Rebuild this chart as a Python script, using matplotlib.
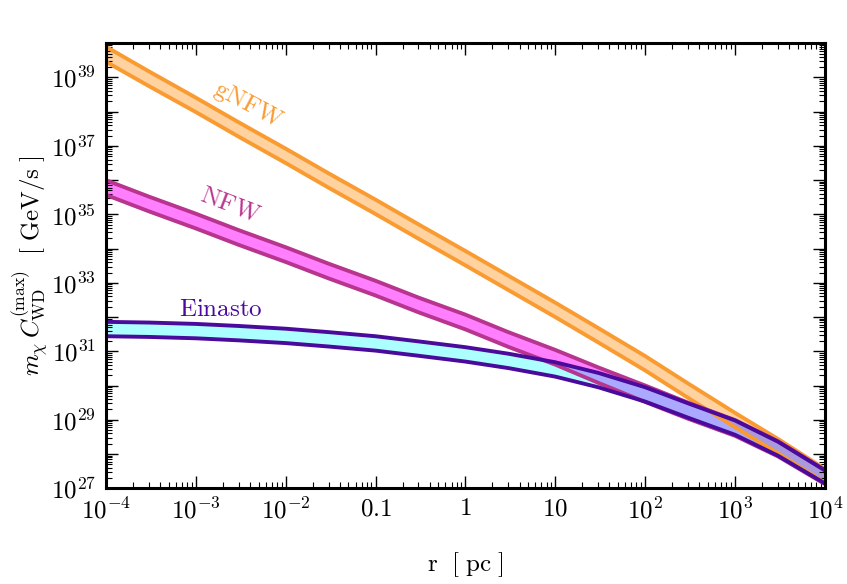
import numpy as np
import matplotlib
matplotlib.use("Agg")
import matplotlib.pyplot as plt
from matplotlib.ticker import FixedLocator, FixedFormatter, LogLocator, NullFormatter

plt.rcParams['mathtext.fontset'] = 'cm'
plt.rcParams['font.family'] = 'serif'
plt.rcParams['font.serif'] = ['cmr10', 'DejaVu Serif']
plt.rcParams['axes.unicode_minus'] = False

# radius grid [pc]
r = [1e-4, 3e-4, 1e-3, 3e-3, 1e-2, 3e-2, 0.1, 0.3, 1, 3, 10, 30, 100, 300, 1e3, 3e3, 1e4]

# log10 of m_chi * C_WD^(max) [GeV/s], upper / lower edge of each band
gnfw_hi = [39.90, 39.18, 38.41, 37.69, 36.92, 36.20, 35.43, 34.71, 33.93, 33.21,
           32.42, 31.68, 30.86, 30.06, 29.20, 28.44, 27.56]
gnfw_lo = [39.46, 38.75, 37.99, 37.27, 36.50, 35.78, 35.01, 34.29, 33.51, 32.79,
           32.00, 31.26, 30.44, 29.64, 28.78, 28.02, 27.16]

nfw_hi = [36.00, 35.52, 35.02, 34.54, 34.04, 33.56, 33.06, 32.57, 32.07, 31.56,
          31.04, 30.53, 30.00, 29.50, 28.99, 28.37, 27.53]
nfw_lo = [35.57, 35.09, 34.59, 34.11, 33.61, 33.13, 32.63, 32.14, 31.64, 31.13,
          30.61, 30.08, 29.52, 29.03, 28.53, 27.93, 27.12]

ein_hi = [31.86, 31.84, 31.80, 31.74, 31.66, 31.56, 31.44, 31.29, 31.12, 30.93,
          30.68, 30.37, 29.95, 29.48, 28.98, 28.36, 27.52]
ein_lo = [31.44, 31.42, 31.38, 31.32, 31.24, 31.14, 31.02, 30.87, 30.70, 30.51,
          30.26, 29.95, 29.53, 29.06, 28.56, 27.95, 27.14]

xtick_vals = [1e-4, 1e-3, 1e-2, 0.1, 1, 10, 1e2, 1e3, 1e4]
xtick_labels = [r'$10^{-4}$', r'$10^{-3}$', r'$10^{-2}$', r'$0.1$', r'$1$', r'$10$',
                r'$10^{2}$', r'$10^{3}$', r'$10^{4}$']
ytick_exp = list(range(27, 41))

bands = [
    ('gNFW', gnfw_hi, gnfw_lo, '#f99b31', '#ffa640', 0.5),
    ('NFW', nfw_hi, nfw_lo, '#b8358f', '#ff00ff', 0.5),
    ('Einasto', ein_hi, ein_lo, '#4a0a9c', '#00ffff', 0.33),
]

fig = plt.figure(figsize=(8.47, 5.84), dpi=100)
ax = fig.add_axes([0.125, 0.164, 0.849, 0.762])

for name, hi, lo, ec, fc, a in bands:
    hi = 10.0 ** np.array(hi)
    lo = 10.0 ** np.array(lo)
    ax.fill_between(r, lo, hi, color=fc, alpha=a, lw=0)
    ax.plot(r, hi, color=ec, lw=2.8, solid_capstyle='butt')
    ax.plot(r, lo, color=ec, lw=2.8, solid_capstyle='butt')

ax.set_xscale('log')
ax.set_yscale('log')
ax.set_xlim(1e-4, 1e4)
ax.set_ylim(1e27, 1e40)

ax.xaxis.set_major_locator(FixedLocator(xtick_vals))
ax.xaxis.set_major_formatter(FixedFormatter(xtick_labels))
ax.xaxis.set_minor_locator(LogLocator(base=10, subs=np.arange(2, 10), numticks=30))
ax.xaxis.set_minor_formatter(NullFormatter())

yt = [10.0 ** e for e in ytick_exp]
ylab = [(r'$10^{%d}$' % e) if e % 2 == 1 else '' for e in ytick_exp]
ax.yaxis.set_major_locator(FixedLocator(yt))
ax.yaxis.set_major_formatter(FixedFormatter(ylab))
ax.yaxis.set_minor_locator(LogLocator(base=10, subs=np.arange(2, 10), numticks=40))
ax.yaxis.set_minor_formatter(NullFormatter())

ax.tick_params(which='both', direction='in', top=True, right=True, labelsize=18)
ax.tick_params(which='major', length=8.5, width=1.0, pad=7)
ax.tick_params(which='minor', length=4.5, width=0.8)
for s in ax.spines.values():
    s.set_linewidth(2.2)

ax.set_xlabel(r'$\mathrm{r\ \ [\ pc\ ]}$', fontsize=18, labelpad=19)
ax.set_ylabel(r'$m_\chi\, C_{\rm WD}^{(\rm max)}\ \ [\ \mathrm{GeV/s}\ ]$', fontsize=18, labelpad=0)

ax.text(3.8e-3, 1.6e38, r'$\mathrm{gNFW}$', color='#f99b31', fontsize=18,
        rotation=-28, ha='center', va='center', rotation_mode='anchor')
ax.text(2.4e-3, 1.9e35, r'$\mathrm{NFW}$', color='#b8358f', fontsize=18,
        rotation=-21, ha='center', va='center', rotation_mode='anchor')
ax.text(1.9e-3, 1.6e32, r'$\mathrm{Einasto}$', color='#4a0a9c', fontsize=18,
        ha='center', va='center')

fig.savefig('out.png', dpi=100)
